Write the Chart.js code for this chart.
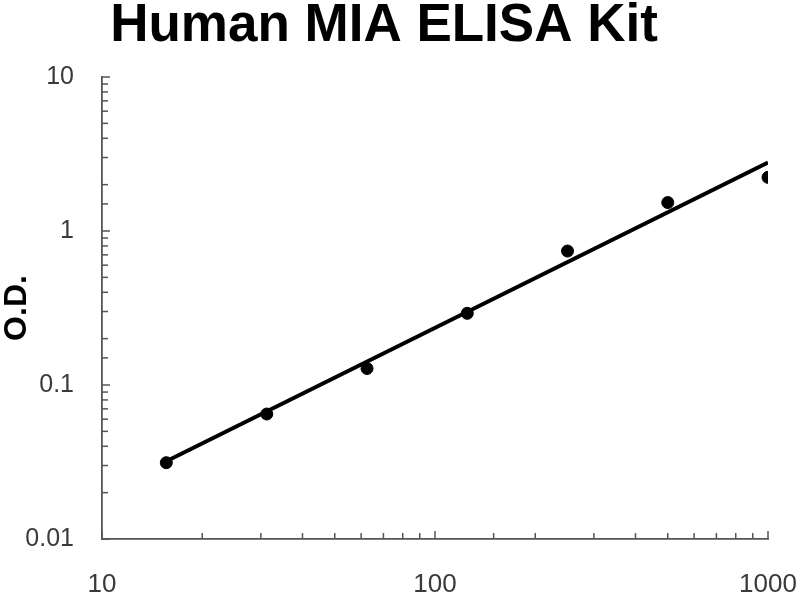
<!DOCTYPE html>
<html lang="en">
<head>
    <meta charset="UTF-8">
    <title>Human MIA ELISA Kit</title>
    <script src="https://cdn.jsdelivr.net/npm/chart.js"></script>
    <style>
        body { margin: 0; background: #fff; }
        #wrap { width: 800px; height: 600px; }
    </style>
</head>
<body>
    <div id="wrap"><canvas id="curve" width="800" height="600"></canvas></div>
    <script>
        // standard concentrations (pg/ml) and measured O.D.
        const conc = [15.6, 31.25, 62.5, 125, 250, 500, 1000];
        const od = [0.0313, 0.0648, 0.128, 0.292, 0.741, 1.53, 2.23];
        // fitted line end points
        const fitX = [15.6, 1000];
        const fitY = [0.032, 2.78];
        const xTickLabels = [10, 100, 1000];
        const yTickLabels = [0.01, 0.1, 1, 10];

        const isLabelled = (list, v) => list.some(t => Math.abs(t - v) < t * 1e-6);

        // small tick marks pointing into the plot area
        const innerTicks = {
            id: 'innerTicks',
            afterDraw(chart) {
                const ctx = chart.ctx;
                const x = chart.scales.x, y = chart.scales.y;
                ctx.save();
                ctx.strokeStyle = '#555';
                ctx.lineWidth = 1.5;
                x.ticks.forEach(t => {
                    const px = x.getPixelForValue(t.value);
                    const len = isLabelled(xTickLabels, t.value) ? 8 : 6;
                    ctx.beginPath();
                    ctx.moveTo(px, y.bottom);
                    ctx.lineTo(px, y.bottom - len);
                    ctx.stroke();
                });
                y.ticks.forEach(t => {
                    const py = y.getPixelForValue(t.value);
                    const len = isLabelled(yTickLabels, t.value) ? 8 : 6;
                    ctx.beginPath();
                    ctx.moveTo(x.left, py);
                    ctx.lineTo(x.left + len, py);
                    ctx.stroke();
                });
                ctx.restore();
            }
        };

        new Chart(document.getElementById('curve'), {
            type: 'scatter',
            data: {
                datasets: [{
                    data: conc.map((c, i) => ({ x: c, y: od[i] })),
                    backgroundColor: '#000',
                    borderColor: '#000',
                    pointRadius: 6,
                    showLine: false
                }, {
                    data: fitX.map((c, i) => ({ x: c, y: fitY[i] })),
                    borderColor: '#000',
                    borderWidth: 4,
                    pointRadius: 0,
                    showLine: true
                }]
            },
            options: {
                responsive: false,
                animation: false,
                layout: { padding: { right: 32 } },
                plugins: {
                    legend: { display: false },
                    tooltip: { enabled: false },
                    title: {
                        display: true,
                        text: 'Human MIA ELISA Kit',
                        color: '#000',
                        font: { family: 'Liberation Sans', size: 53, weight: 'bold', lineHeight: 1 },
                        padding: { top: 0, bottom: 24 }
                    }
                },
                scales: {
                    x: {
                        type: 'logarithmic',
                        min: 10,
                        max: 1000,
                        grid: { display: false, drawTicks: false },
                        border: { display: true, color: '#555', width: 1.8 },
                        afterFit: s => { s.height = 61; s.paddingLeft = 0; s.paddingRight = 0; },
                        ticks: {
                            autoSkip: false,
                            maxRotation: 0,
                            padding: 30,
                            color: '#3a3a3a',
                            font: { family: 'Liberation Sans', size: 26 },
                            callback: v => isLabelled(xTickLabels, v) ? String(v) : ''
                        }
                    },
                    y: {
                        type: 'logarithmic',
                        min: 0.01,
                        max: 10,
                        grid: { display: false, drawTicks: false },
                        border: { display: true, color: '#555', width: 1.8 },
                        afterFit: s => { s.width = 102; },
                        title: {
                            display: true,
                            text: 'O.D.',
                            color: '#000',
                            font: { family: 'Liberation Sans', size: 32, weight: 'bold', lineHeight: 1 },
                            padding: { top: 1, bottom: 0 }
                        },
                        ticks: {
                            autoSkip: false,
                            padding: 28,
                            color: '#3a3a3a',
                            font: { family: 'Liberation Sans', size: 25 },
                            callback: v => isLabelled(yTickLabels, v) ? String(v) : ''
                        }
                    }
                }
            },
            plugins: [innerTicks]
        });
    </script>
</body>
</html>
